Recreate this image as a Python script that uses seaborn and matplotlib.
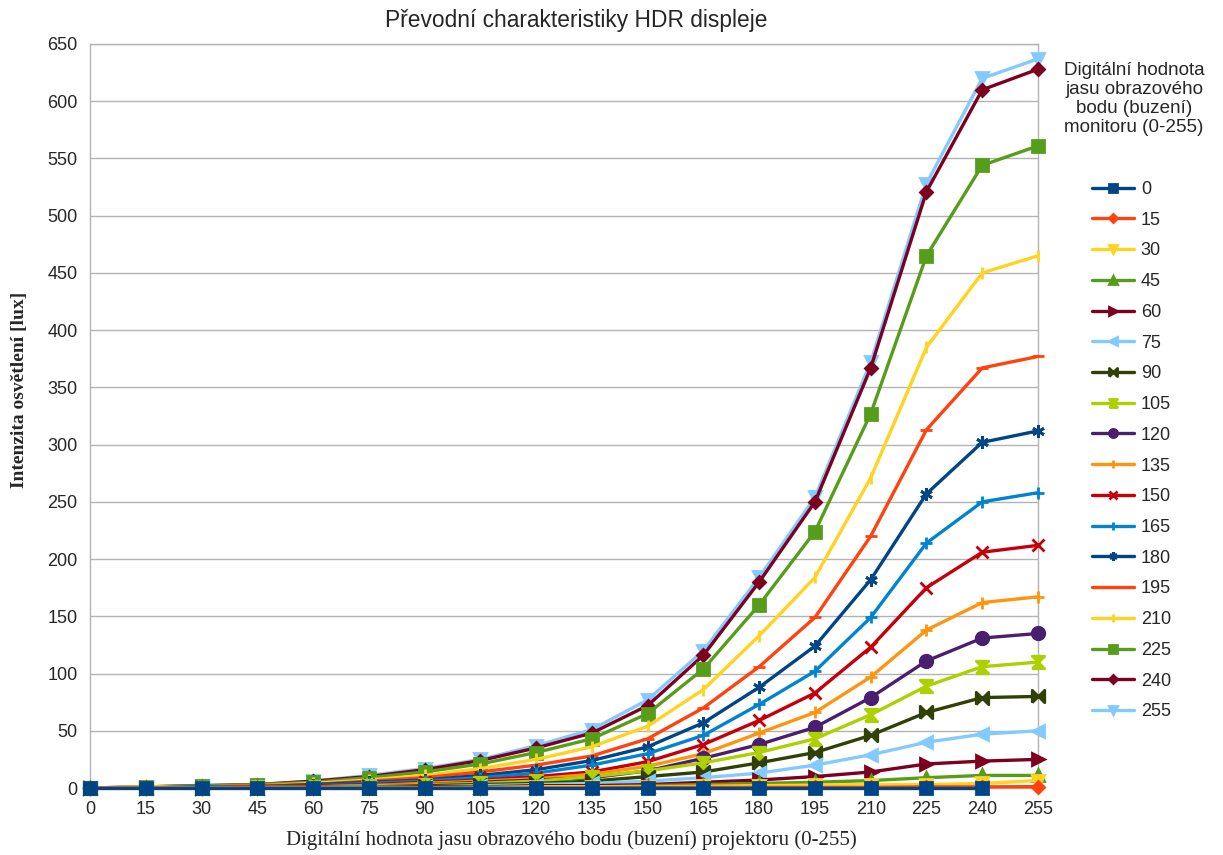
import numpy as np
import pandas as pd
import matplotlib
matplotlib.use("Agg")
import matplotlib.pyplot as plt
import seaborn as sns

# projector drive levels (x axis)
projector = list(range(0, 256, 15))

# monitor drive levels (one line each)
monitor = [0, 15, 30, 45, 60, 75, 90, 105, 120, 135, 150, 165, 180, 195, 210, 225, 240, 255]

# illuminance [lux], one list per monitor level
lux_0 = [0, 0, 0, 0, 0, 0, 0, 0, 0, 0, 0, 0, 0, 0, 0, 0, 0, np.nan]
lux_15 = [0, 0, 0, 0, 0, 0, 0, 0, 0, 0, 0.5, 0.5, 0.5, 0.5, 0.5, 1, 1, 1.2]
lux_30 = [0, 0, 0, 0, 0, 0, 0, 0, 1, 1, 1, 1.5, 2, 2.5, 3, 3, 4, 6.5]
lux_45 = [0, 0, 0, 0, 0, 0, 0, 1, 1, 1, 2, 3, 4, 5, 6.5, 9, 11, 11]
lux_60 = [0, 0, 0, 0, 0, 0.5, 1, 1, 2, 2, 3, 5, 7, 10, 14, 21, 23.5, 25]
lux_75 = [0, 0, 0, 0, 0.5, 1, 1, 2, 3, 4, 6, 9, 13, 20, 29, 40, 47, 50]
lux_90 = [0, 0, 0, 0, 1, 1, 2, 3, 4, 6, 10, 14, 22, 31, 46, 66, 79, 80]
lux_105 = [0, 0, 0, 0.5, 1, 2, 3, 4, 6, 10, 15, 22, 31, 43, 64, 89, 106, 110]
lux_120 = [0, 0, 0, 1, 1, 2, 3, 5, 7, 9, 15, 26, 38, 53, 79, 111, 131, 135]
lux_135 = [0, 0, 0, 1, 1, 2, 4, 6, 8, 12, 19, 30, 48, 66, 97, 138, 162, 167]
lux_150 = [0, 0, 0, 1, 2, 3, 5, 7, 10, 14, 23, 38, 59, 83, 123, 175, 206, 212]
lux_165 = [0, 0, 1, 1, 2, 4, 6, 9, 13, 20, 30, 46, 73, 102, 149, 214, 250, 258]
lux_180 = [0, 0, 1, 1, 3, 5, 7, 11, 16, 24, 36, 57, 88, 124, 182, 257, 302, 312]
lux_195 = [0, 0, 1, 2, 3, 6, 9, 14, 20, 28, 43, 70, 106, 149, 220, 313, 367, 377]
lux_210 = [0, 1, 1, 2, 4, 7, 11, 17, 25, 36, 54, 86, 133, 184, 271, 385, 450, 465]
lux_225 = [0, 1, 2, 3, 5, 9, 14, 21, 31, 43, 65, 104, 160, 224, 327, 465, 544, 561]
lux_240 = [0, 1, 2, 3, 6, 10, 16, 24, 35, 48, 72, 116, 180, 250, 367, 521, 610, 628]
lux_255 = [0, 1, 2, 3, 6, 11, 17, 25, 37, 51, 77, 120, 184, 254, 372, 528, 620, 637]

series = [lux_0, lux_15, lux_30, lux_45, lux_60, lux_75, lux_90, lux_105, lux_120,
          lux_135, lux_150, lux_165, lux_180, lux_195, lux_210, lux_225, lux_240, lux_255]

# LibreOffice default palette
palette = ["#004586", "#ff420e", "#ffd320", "#579d1c", "#7e0021", "#83caff",
           "#314004", "#aecf00", "#4b1f6f", "#ff950e", "#c5000b", "#0084d1"]

bowtie = [(-1, -1), (-1, 1), (1, -1), (1, 1), (-1, -1)]
hourglass = [(-1, -1), (1, -1), (-1, 1), (1, 1), (-1, -1)]
markers = ["s", "D", "v", "^", ">", "<", bowtie, hourglass, "o", "+", "x", "+",
           (6, 2, 0), "_", "|", "s", "D", "v"]
sizes = [9, 6.5, 9, 9, 9, 9, 9, 9, 9, 9, 8, 9, 9, 9, 9, 9, 6.5, 9]

sns.set_style("white")
plt.rcParams["font.family"] = ["Liberation Sans", "DejaVu Sans"]

fig = plt.figure(figsize=(12.23, 8.55), dpi=100)
ax = fig.add_axes([90 / 1223, 1 - 788 / 855, 948 / 1223, 744 / 855])

n = len(monitor)
for i, (m, ys) in enumerate(zip(monitor, series)):
    sns.lineplot(x=projector, y=ys, ax=ax, color=palette[i % len(palette)],
                 marker=markers[i], ms=sizes[i], mew=2, mec=None, lw=2.4,
                 label=str(m), zorder=10 + n - i, clip_on=False)

ax.set_xlim(0, 255)
ax.set_ylim(0, 650)
ax.set_xticks(projector)
ax.set_yticks(range(0, 651, 50))
ax.yaxis.grid(True, color="#b3b3b3", lw=1)
ax.xaxis.grid(False)
for s in ax.spines.values():
    s.set_color("#b3b3b3")
    s.set_linewidth(1)
ax.tick_params(axis="y", length=6, color="#b3b3b3", width=1, pad=3, labelsize=13)
ax.tick_params(axis="x", length=0, pad=9, labelsize=13)
ax.set_xlabel("")
ax.set_ylabel("")

fig.text(576 / 1223, 1 - 20 / 855, "Převodní charakteristiky HDR displeje",
         ha="center", va="center", fontsize=16.4)
fig.text(571 / 1223, 1 - 840 / 855,
         "Digitální hodnota jasu obrazového bodu (buzení) projektoru (0-255)",
         ha="center", va="center", fontsize=15,
         family=["Liberation Serif", "DejaVu Serif"])
fig.text(20 / 1223, 1 - 390 / 855, "Intenzita osvětlení [lux]",
         ha="center", va="center", rotation=90, fontsize=14, fontweight="bold",
         family=["Liberation Serif", "DejaVu Serif"])

fig.text(1134 / 1223, 1 - 99 / 855,
         "Digitální hodnota\njasu obrazového\nbodu (buzení)\nmonitoru (0-255)",
         ha="center", va="center", fontsize=13.6, linespacing=1.13)

ax.legend(loc="upper left", bbox_to_anchor=(1092 / 1223, 1 - 181 / 855),
          bbox_transform=fig.transFigure, frameon=False, fontsize=13,
          handlelength=2.3, handletextpad=0.4, labelspacing=0.76,
          markerscale=0.65, borderpad=0, borderaxespad=0)

fig.savefig("out.png", dpi=100)
